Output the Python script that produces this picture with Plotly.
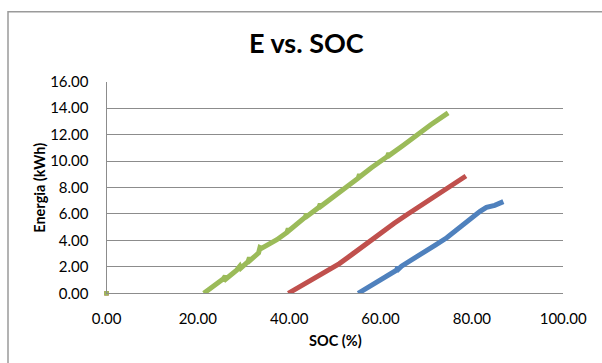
import plotly.graph_objects as go

# Energy recovered vs. state of charge for three test runs
blue_soc = [55.1, 58.0, 61.0, 63.5, 63.8, 64.0, 64.6, 67.0, 69.4, 72.0, 74.5, 77.0, 79.5, 81.8, 83.2, 85.0, 86.9]
blue_e = [0.0, 0.6, 1.2, 1.75, 2.0, 1.85, 2.05, 2.6, 3.15, 3.65, 4.2, 4.9, 5.6, 6.2, 6.5, 6.65, 6.93]

red_soc = [39.8, 42.0, 45.0, 48.0, 51.0, 54.0, 57.0, 60.0, 63.0, 66.0, 69.0, 72.0, 75.0, 78.7]
red_e = [0.0, 0.45, 1.05, 1.65, 2.25, 3.0, 3.8, 4.55, 5.3, 6.0, 6.7, 7.4, 8.1, 8.87]

green_soc = [21.3, 23.5, 25.6, 26.0, 26.2, 28.5, 29.2, 29.4, 31.0, 31.3, 31.5, 33.3, 33.6, 33.9,
             37.3, 39.5, 39.8, 40.0, 43.5, 43.8, 44.0, 46.5, 46.8, 47.0, 50.0, 53.0, 55.1, 55.4,
             55.6, 58.0, 61.5, 61.8, 62.0, 65.0, 68.0, 71.0, 74.8]
green_e = [0.0, 0.55, 1.1, 1.3, 1.1, 1.75, 2.05, 1.9, 2.4, 2.7, 2.5, 3.05, 3.45, 3.4,
           4.05, 4.6, 4.9, 4.75, 5.75, 6.0, 5.85, 6.5, 6.75, 6.6, 7.4, 8.15, 8.7, 9.0,
           8.85, 9.5, 10.35, 10.6, 10.45, 11.2, 12.0, 12.75, 13.64]

origin_soc = [0.0]
origin_e = [0.0]

x_ticks = [0, 20, 40, 60, 80, 100]
y_ticks = [0, 2, 4, 6, 8, 10, 12, 14, 16]

BLUE = "#4F81BD"
RED = "#C0504D"
GREEN = "#9BBB59"
GRID = "#8c8c8c"
FONT = "Lato"

W, H = 602, 363

fig = go.Figure()
for xs, ys, c in [(blue_soc, blue_e, BLUE), (red_soc, red_e, RED), (green_soc, green_e, GREEN)]:
    fig.add_trace(go.Scatter(x=xs, y=ys, mode="lines",
                             line=dict(color=c, width=5), showlegend=False))
for c in [RED, GREEN]:
    fig.add_trace(go.Scatter(x=origin_soc, y=origin_e, mode="markers",
                             marker=dict(color=c, size=4.5, symbol="square"),
                             showlegend=False, cliponaxis=False))

fig.update_layout(
    template="none",
    width=W, height=H, autosize=False,
    margin=dict(l=0, r=0, t=0, b=0, pad=0),
    paper_bgcolor="white", plot_bgcolor="white",
    font=dict(family=FONT, color="#000000"),
    xaxis=dict(
        domain=[106.5 / W, 563.2 / W], range=[0, 100], automargin=False,
        tickvals=x_ticks, ticktext=[f"{v:.2f}" for v in x_ticks],
        showgrid=False, zeroline=False,
        showline=True, linecolor=GRID, linewidth=1,
        ticks="", ticklabelstandoff=12,
        tickfont=dict(family=FONT, size=15, color="#000000"),
    ),
    yaxis=dict(
        domain=[1 - 293.3 / H, 1 - 81.7 / H], range=[0, 16], automargin=False,
        tickvals=y_ticks, ticktext=[f"{v:.2f}" for v in y_ticks],
        showgrid=True, gridcolor=GRID, gridwidth=1, zeroline=False,
        showline=True, linecolor=GRID, linewidth=1,
        ticks="", ticklabelstandoff=14,
        tickfont=dict(family=FONT, size=15, color="#000000"),
    ),
    shapes=[dict(type="rect", xref="paper", yref="paper",
                 x0=8 / W, x1=1.05, y0=-0.05, y1=1 - 11.7 / H,
                 line=dict(color="#9a9a9a", width=1.5), fillcolor="rgba(0,0,0,0)", layer="below")],
    annotations=[
        dict(text="<b>E vs. SOC</b>", xref="paper", yref="paper",
             x=306.5 / W, y=1 - 42.7 / H, xanchor="center", yanchor="middle",
             showarrow=False, font=dict(family=FONT, size=27, color="#000000")),
        dict(text="<b>SOC (%)</b>", xref="paper", yref="paper",
             x=335 / W, y=1 - 340.7 / H, xanchor="center", yanchor="middle",
             showarrow=False, font=dict(family=FONT, size=14.5, color="#000000")),
        dict(text="<b>Energia (kWh)</b>", xref="paper", yref="paper",
             x=39.5 / W, y=1 - 188.3 / H, xanchor="center", yanchor="middle",
             textangle=-90, showarrow=False,
             font=dict(family=FONT, size=14.5, color="#000000")),
    ],
)

fig.write_html(
    "out.html",
    post_script="document.body.style.margin='0';document.body.style.overflow='hidden';",
)
